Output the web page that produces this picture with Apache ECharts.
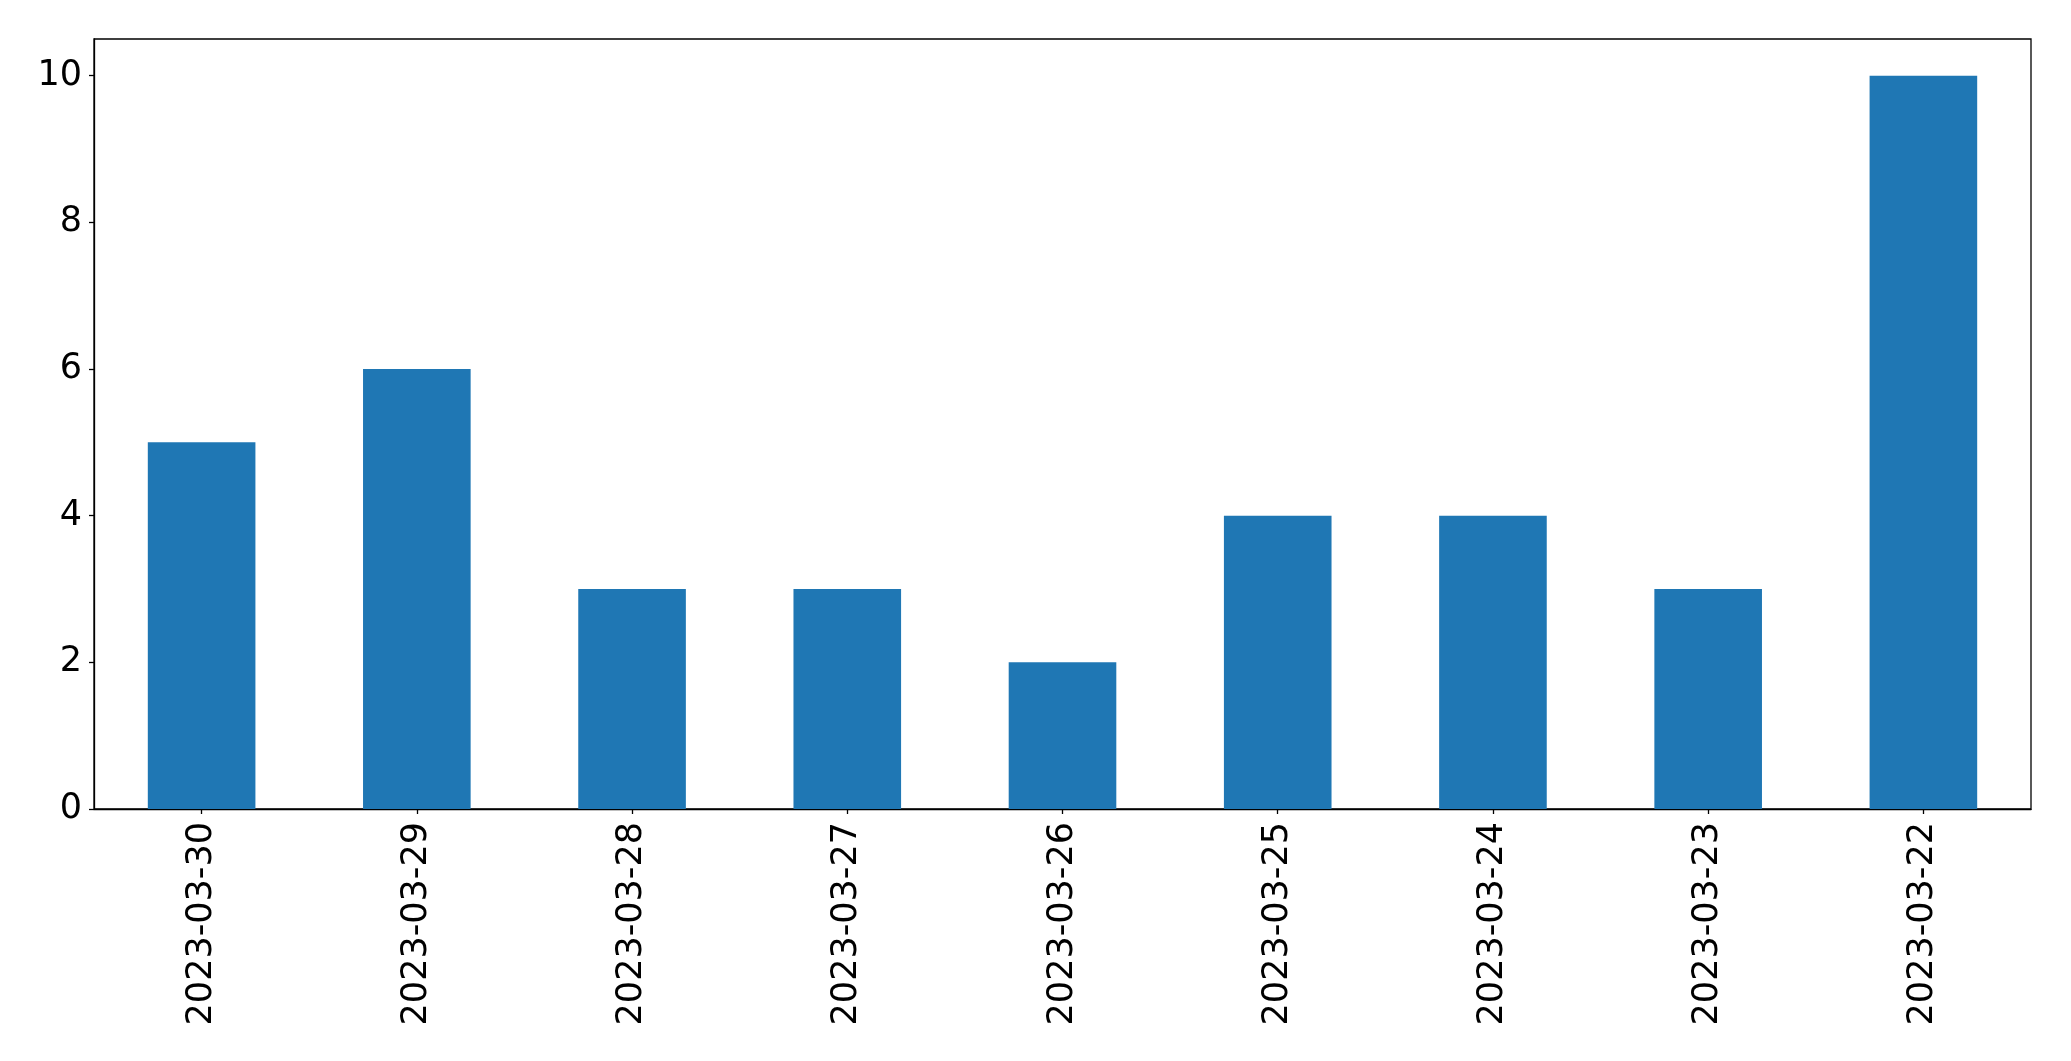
<!DOCTYPE html>
<html>
<head>
<meta charset="utf-8">
<script src="https://cdn.jsdelivr.net/npm/echarts@6/dist/echarts.min.js"></script>
<style>
html,body{margin:0;padding:0;background:#fff;}
#chart{width:2071px;height:1061px;}
</style>
</head>
<body>
<div id="chart"></div>
<script>
const categories = ["2023-03-30","2023-03-29","2023-03-28","2023-03-27","2023-03-26","2023-03-25","2023-03-24","2023-03-23","2023-03-22"];
const values = [5, 6, 3, 3, 2, 4, 4, 3, 10];
const yTicks = [0, 2, 4, 6, 8, 10];

const chart = echarts.init(document.getElementById('chart'), null, {renderer: 'canvas'});
const font = 'DejaVu Sans';
chart.setOption({
  animation: false,
  backgroundColor: '#ffffff',
  grid: {
    left: 94, right: 40, top: 39, bottom: 252,
    show: true, borderColor: '#000', borderWidth: 1.3, backgroundColor: 'transparent'
  },
  xAxis: {
    type: 'category',
    data: categories,
    boundaryGap: true,
    axisLine: {show: true, lineStyle: {color: '#000', width: 1.3}},
    axisTick: {show: true, alignWithLabel: true, length: 5, lineStyle: {color: '#000', width: 1.3}},
    axisLabel: {rotate: 90, margin: 13, color: '#000', fontSize: 35, fontFamily: font, interval: 0},
    splitLine: {show: false}
  },
  yAxis: {
    type: 'value',
    min: 0, max: 10.5, interval: 2,
    axisLine: {show: true, lineStyle: {color: '#000', width: 1.3}},
    axisTick: {show: true, length: 5, customValues: yTicks, lineStyle: {color: '#000', width: 1.3}},
    axisLabel: {margin: 12, color: '#000', fontSize: 35, fontFamily: font, customValues: yTicks},
    splitLine: {show: false}
  },
  series: [{
    type: 'bar',
    data: values,
    barWidth: '50%',
    itemStyle: {color: '#1f77b4'}
  }]
});
</script>
</body>
</html>
